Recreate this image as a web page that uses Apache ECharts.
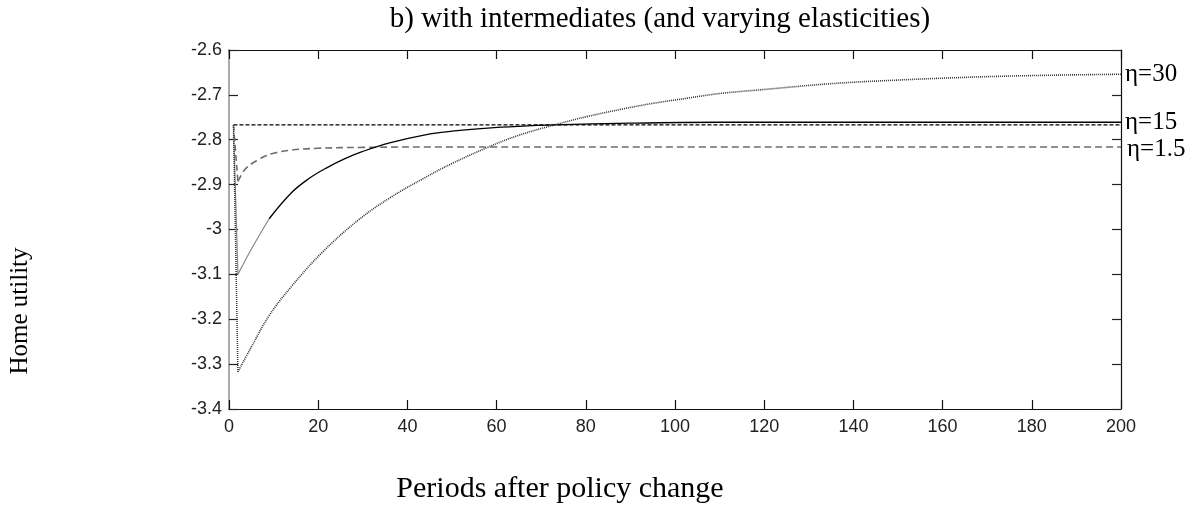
<!DOCTYPE html>
<html>
<head>
<meta charset="utf-8">
<script src="https://cdn.jsdelivr.net/npm/echarts@6/dist/echarts.min.js"></script>
<style>
  html, body { margin: 0; padding: 0; background: #fff; }
  #chart { width: 1194px; height: 506px; }
</style>
</head>
<body>
<div id="chart"></div>
<script>
// home utility after a policy change, three elasticities
const titleText = 'b) with intermediates (and varying elasticities)'
const xName = 'Periods after policy change'
const yName = 'Home utility'

const xMin = 0, xMax = 200, xStep = 20
const yMin = -3.4, yMax = -2.6, yStep = 0.1

// period 1 = old steady state, all paths start there
const startT = 1
const startV = -2.767
const baselineT = [1, 200]
const baselineV = [-2.767, -2.767]

const eta30Label = 'η=30'
const eta30T = [2, 5, 9, 14, 21, 29, 36, 44, 50, 58, 65, 73, 80, 88, 95, 103, 110, 120, 135, 150, 165, 180, 200]
const eta30V = [-3.317, -3.262, -3.192, -3.127, -3.050, -2.979, -2.930, -2.884, -2.853, -2.817, -2.790, -2.767,
  -2.749, -2.732, -2.719, -2.707, -2.697, -2.688, -2.675, -2.667, -2.661, -2.657, -2.654]

const eta15Label = 'η=15'
// first periods drawn grey in the original
const eta15EarlyT = [2, 5, 9, 14]
const eta15EarlyV = [-3.100, -3.044, -2.976, -2.918]
const eta15T = [9, 14, 18, 22, 26, 30, 36, 44, 50, 58, 65, 73, 90, 110, 140, 200]
const eta15V = [-2.976, -2.918, -2.886, -2.862, -2.842, -2.826, -2.807, -2.789, -2.781, -2.774, -2.770, -2.767,
  -2.763, -2.761, -2.761, -2.761]

const eta1Label = 'η=1.5'
const eta1T = [2, 3.5, 5, 6.5, 8, 10, 14, 20, 30, 50, 100, 200]
const eta1V = [-2.893, -2.867, -2.854, -2.845, -2.837, -2.830, -2.823, -2.819, -2.817, -2.816, -2.816, -2.816]

const pairs = (ts, vs) => ts.map((t, i) => [t, vs[i]])
const dropFrom = (ts, vs) => [[startT, startV], [ts[0], vs[0]]]

const serif = '"Liberation Serif", "Times New Roman", serif'
const sans = '"Liberation Sans", Arial, sans-serif'

const endLabel = (text, offset) => ({
  show: true,
  formatter: text,
  distance: 4,
  offset: offset || [0, 0],
  color: '#000',
  fontFamily: serif,
  fontSize: 25,
})

const line = (data, style, extra) => Object.assign({
  type: 'line',
  data,
  showSymbol: false,
  symbol: 'none',
  lineStyle: style,
  silent: true,
  z: 2,
}, extra || {})

const frameAxisX = (pos, labels) => ({
  type: 'value',
  position: pos,
  min: xMin, max: xMax, interval: xStep,
  axisLine: { show: true, onZero: false, lineStyle: { color: '#111', width: 1.2 } },
  axisTick: { show: true, inside: true, length: 9, lineStyle: { color: '#111', width: 1.2 } },
  axisLabel: labels
    ? { show: true, color: '#222', fontFamily: sans, fontSize: 18, margin: 9 }
    : { show: false },
  splitLine: { show: false },
})

const frameAxisY = (pos, labels, color) => ({
  type: 'value',
  position: pos,
  min: yMin, max: yMax, interval: yStep,
  axisLine: { show: true, onZero: false, lineStyle: { color: color, width: labels ? 2 : 1.2 } },
  axisTick: { show: true, inside: true, length: 9, lineStyle: { color: '#222', width: 1.2 } },
  axisLabel: labels
    ? { show: true, color: '#222', fontFamily: sans, fontSize: 18, margin: 7 }
    : { show: false },
  splitLine: { show: false },
})

const chart = echarts.init(document.getElementById('chart'), null, { renderer: 'canvas' })
chart.setOption({
  animation: false,
  backgroundColor: '#fff',
  grid: { left: 229, right: 73, top: 50, bottom: 97, show: false },
  xAxis: [frameAxisX('bottom', true), frameAxisX('top', false)],
  yAxis: [frameAxisY('left', true, '#aaa'), frameAxisY('right', false, '#111')],
  graphic: [
    { type: 'text', x: 660, y: 19, style: { text: titleText, font: '29px ' + serif, fill: '#000', textAlign: 'center', textVerticalAlign: 'middle' } },
    { type: 'text', x: 560, y: 489, style: { text: xName, font: '30px ' + serif, fill: '#000', textAlign: 'center', textVerticalAlign: 'middle' } },
    { type: 'text', x: 20, y: 311, rotation: Math.PI / 2, style: { text: yName, font: '25px ' + serif, fill: '#000', textAlign: 'center', textVerticalAlign: 'middle' } },
  ],
  series: [
    line(pairs(baselineT, baselineV), { color: '#000', width: 1.3, type: [4, 2] }),
    line(dropFrom(eta1T, eta1V), { color: '#666', width: 1.5, type: [6, 4] }),
    line(pairs(eta1T, eta1V), { color: '#6e6e6e', width: 1.6, type: [7, 4] },
      { smooth: 0.4, endLabel: endLabel(eta1Label, [2, 3]) }),
    line(dropFrom(eta15EarlyT, eta15EarlyV), { color: '#888', width: 1.2 }),
    line(pairs(eta15EarlyT, eta15EarlyV).slice(0, 3), { color: '#888', width: 1.2 }, { smooth: 0.4 }),
    line(pairs(eta15T, eta15V), { color: '#000', width: 1.3 },
      { smooth: 0.4, endLabel: endLabel(eta15Label, [0, 0]) }),
    line(dropFrom(eta30T, eta30V), { color: '#333', width: 1.5, type: [1, 1] }),
    line(pairs(eta30T, eta30V), { color: '#333', width: 1.6, type: [1, 1] },
      { smooth: 0.4, endLabel: endLabel(eta30Label, [0, 0]) }),
  ],
})
</script>
</body>
</html>
